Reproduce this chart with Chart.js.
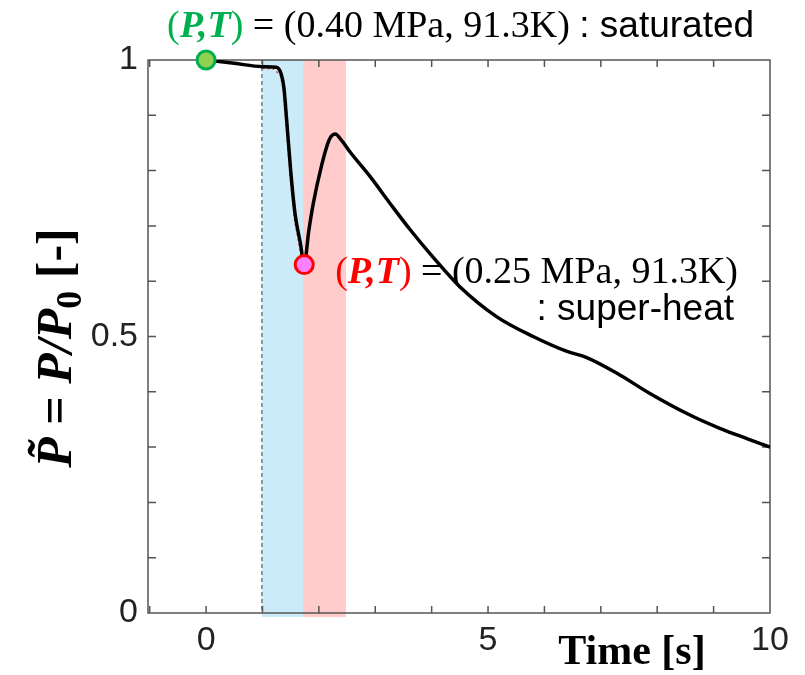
<!DOCTYPE html>
<html>
<head>
<meta charset="utf-8">
<script src="https://cdn.jsdelivr.net/npm/chart.js@4.4.0/dist/chart.umd.min.js"></script>
<style>
	body { margin: 0; background: #fff; }
	#wrap { width: 805px; height: 675px; }
</style>
</head>
<body>
<div id="wrap"><canvas id="pressureChart" width="805" height="675"></canvas></div>
<script>
// Pressure history (normalised).
var timeS = [0, 0.5, 1.0, 1.25, 1.33, 1.38, 1.43, 1.5, 1.58, 1.67, 1.74, 1.82, 1.9, 2.05, 2.18, 2.29, 2.4, 2.55, 2.91, 3.26, 3.62, 4.02, 4.5, 5.15, 5.8, 6.4, 6.75, 7.28, 7.87, 8.58, 9.11, 9.6, 10.0];
var pressureRatio = [1.0, 0.994, 0.988, 0.987, 0.975, 0.95, 0.89, 0.8, 0.72, 0.67, 0.63, 0.69, 0.74, 0.81, 0.855, 0.866, 0.855, 0.834, 0.789, 0.741, 0.693, 0.644, 0.59, 0.536, 0.5, 0.473, 0.462, 0.434, 0.397, 0.358, 0.334, 0.315, 0.3];

// faint red dotted trace along the drop
var dropTime = [1.0, 1.2, 1.32, 1.37, 1.42, 1.49, 1.57, 1.66, 1.73];
var dropRatio = [0.985, 0.984, 0.972, 0.945, 0.88, 0.79, 0.71, 0.66, 0.625];

// the two marked states
var stateTime = [0, 1.74];
var stateRatio = [1.0, 0.63];

// shaded phases [from, to] in seconds
var blueBand = [0.99, 1.72];
var pinkBand = [1.72, 2.48];
var dashedAt = 0.99;

var xTickValues = [-1, 0, 1, 2, 3, 4, 5, 6, 7, 8, 9, 10];
var xTickLabels = { '0': '0', '5': '5', '10': '10' };
var yTickValues = [0, 0.1, 0.2, 0.3, 0.4, 0.5, 0.6, 0.7, 0.8, 0.9, 1];
var yTickLabels = { '0': '0', '0.5': '0.5', '1': '1' };

var SERIF = '"Liberation Serif", "Times New Roman", serif';
var SANS = '"Liberation Sans", Arial, sans-serif';

function drawRuns(ctx, x, y, runs) {
	for (var i = 0; i < runs.length; i++) {
		var r = runs[i];
		ctx.font = r.font;
		ctx.fillStyle = r.color || '#000';
		ctx.fillText(r.text, x, y + (r.dy || 0));
		x += ctx.measureText(r.text).width;
	}
	return x;
}

function runsWidth(ctx, runs) {
	var w = 0;
	for (var i = 0; i < runs.length; i++) {
		ctx.font = runs[i].font;
		w += ctx.measureText(runs[i].text).width;
	}
	return w;
}

var figurePlugin = {
	id: 'figurePlugin',
	beforeDatasetsDraw: function(chart) {
		var ctx = chart.ctx;
		var a = chart.chartArea;
		var xs = chart.scales.x, ys = chart.scales.y;
		ctx.save();

		// bands
		ctx.fillStyle = 'rgba(150, 215, 240, 0.5)';
		var b0 = xs.getPixelForValue(blueBand[0]), b1 = xs.getPixelForValue(blueBand[1]);
		ctx.fillRect(b0, a.top, b1 - b0, a.bottom - a.top + 4);
		ctx.fillStyle = 'rgba(255, 160, 160, 0.55)';
		var p0 = xs.getPixelForValue(pinkBand[0]), p1 = xs.getPixelForValue(pinkBand[1]);
		ctx.fillRect(p0, a.top, p1 - p0, a.bottom - a.top + 4);

		// dashed marker line
		var dx = xs.getPixelForValue(dashedAt);
		ctx.strokeStyle = '#777';
		ctx.lineWidth = 1.5;
		ctx.setLineDash([4, 3]);
		ctx.beginPath();
		ctx.moveTo(dx, a.top);
		ctx.lineTo(dx, a.bottom);
		ctx.stroke();
		ctx.setLineDash([]);

		// frame
		ctx.strokeStyle = '#555';
		ctx.lineWidth = 1.5;
		ctx.strokeRect(a.left, a.top, a.right - a.left, a.bottom - a.top);

		// inward ticks
		ctx.beginPath();
		xTickValues.forEach(function(v) {
			var px = xs.getPixelForValue(v);
			if (px <= a.left + 1 || px >= a.right - 1) return;
			ctx.moveTo(px, a.bottom); ctx.lineTo(px, a.bottom - 7);
			ctx.moveTo(px, a.top); ctx.lineTo(px, a.top + 7);
		});
		yTickValues.forEach(function(v) {
			var py = ys.getPixelForValue(v);
			if (py <= a.top + 1 || py >= a.bottom - 1) return;
			ctx.moveTo(a.left, py); ctx.lineTo(a.left + 8, py);
			ctx.moveTo(a.right, py); ctx.lineTo(a.right - 8, py);
		});
		ctx.stroke();

		// annotation at the super-heat state
		ctx.textBaseline = 'alphabetic';
		var sx = xs.getPixelForValue(stateTime[1]) + 31;
		var sy = ys.getPixelForValue(stateRatio[1]) + 18;
		drawRuns(ctx, sx, sy, [
			{ text: '(', font: '38px ' + SERIF, color: '#ff0000' },
			{ text: 'P,T', font: 'italic bold 38px ' + SERIF, color: '#ff0000' },
			{ text: ')', font: '38px ' + SERIF, color: '#ff0000' },
			{ text: ' = (0.25 MPa, 91.3K)', font: '38px ' + SERIF }
		]);
		ctx.font = '37px ' + SANS;
		ctx.fillStyle = '#000';
		ctx.textAlign = 'right';
		ctx.fillText(': super-heat', 734, sy + 37);
		ctx.restore();
	},
	afterDraw: function(chart) {
		var ctx = chart.ctx;
		ctx.save();
		ctx.textBaseline = 'alphabetic';

		// annotation at the saturated state
		drawRuns(ctx, 167, 37, [
			{ text: '(', font: '38px ' + SERIF, color: '#00b050' },
			{ text: 'P,T', font: 'italic bold 38px ' + SERIF, color: '#00b050' },
			{ text: ')', font: '38px ' + SERIF, color: '#00b050' },
			{ text: ' = (0.40 MPa, 91.3K) ', font: '38px ' + SERIF },
			{ text: ': saturated', font: '37px ' + SANS }
		]);

		// x title
		ctx.font = 'bold 42px ' + SERIF;
		ctx.fillStyle = '#000';
		ctx.textAlign = 'center';
		ctx.fillText('Time [s]', 632, 664);

		// y title (rotated)
		var titleRuns = [
			{ text: 'P\u0303', font: 'italic bold 50px ' + SERIF },
			{ text: ' = ', font: 'bold 50px ' + SERIF },
			{ text: 'P/P', font: 'italic bold 50px ' + SERIF },
			{ text: '0', font: 'bold 36px ' + SERIF, dy: 10 },
			{ text: ' [-]', font: 'bold 50px ' + SERIF }
		];
		ctx.textAlign = 'left';
		var w = runsWidth(ctx, titleRuns);
		ctx.translate(71, 348);
		ctx.rotate(-Math.PI / 2);
		drawRuns(ctx, -w / 2, 0, titleRuns);
		ctx.restore();
	}
};

var chart = new Chart(document.getElementById('pressureChart'), {
	type: 'line',
	data: {
		datasets: [
			{
				label: 'states',
				data: stateTime.map(function(t, i) { return { x: t, y: stateRatio[i] }; }),
				showLine: false,
				pointRadius: 9,
				pointBorderWidth: 3,
				pointBackgroundColor: ['#92d050', '#ff80ff'],
				pointBorderColor: ['#00b050', '#ff0000'],
				clip: false,
				order: 0
			},
			{
				label: 'pressure',
				data: timeS.map(function(t, i) { return { x: t, y: pressureRatio[i] }; }),
				borderColor: '#000',
				borderWidth: 3.5,
				pointRadius: 0,
				cubicInterpolationMode: 'monotone',
				order: 1
			},
			{
				label: 'drop',
				data: dropTime.map(function(t, i) { return { x: t, y: dropRatio[i] }; }),
				borderColor: 'rgba(255, 0, 0, 0.8)',
				borderWidth: 1.5,
				borderDash: [2, 3],
				pointRadius: 0,
				order: 2
			}
		]
	},
	options: {
		responsive: false,
		animation: false,
		layout: { padding: { left: 0, top: 60, right: 35, bottom: 0 } },
		plugins: {
			legend: { display: false },
			tooltip: { enabled: false }
		},
		scales: {
			x: {
				type: 'linear',
				min: -1.03,
				max: 10,
				grid: { display: false, drawTicks: false },
				border: { display: false },
				afterBuildTicks: function(scale) {
					scale.ticks = xTickValues.map(function(v) { return { value: v }; });
				},
				afterFit: function(scale) { scale.height = 62; },
				ticks: {
					autoSkip: false,
					maxRotation: 0,
					padding: 7,
					color: '#222',
					font: { family: SANS, size: 34 },
					callback: function(value) { return xTickLabels[String(value)] || ''; }
				}
			},
			y: {
				min: 0,
				max: 1,
				grid: { display: false, drawTicks: false },
				border: { display: false },
				afterBuildTicks: function(scale) {
					scale.ticks = yTickValues.map(function(v) { return { value: v }; });
				},
				afterFit: function(scale) { scale.width = 148; },
				ticks: {
					autoSkip: false,
					padding: 10,
					color: '#222',
					font: { family: SANS, size: 34 },
					callback: function(value) { return yTickLabels[String(value)] || ''; }
				}
			}
		}
	},
	plugins: [figurePlugin]
});
</script>
</body>
</html>
